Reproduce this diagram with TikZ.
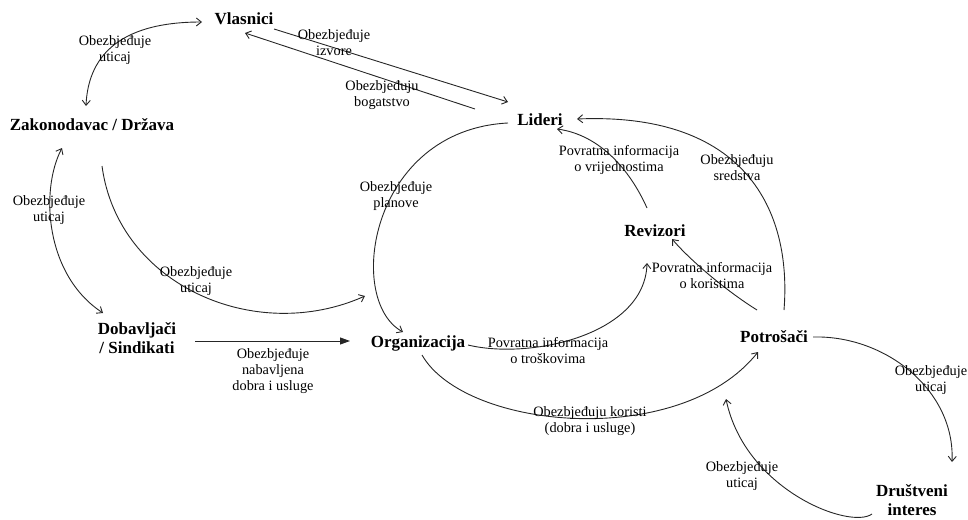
\documentclass[tikz,border=0pt]{standalone}
\usepackage{fontspec}
\setmainfont{Liberation Serif}
\usetikzlibrary{arrows.meta}
\begin{document}
\begin{tikzpicture}[x=1pt,y=-1pt,
  ent/.style={font=\fontsize{17}{19}\selectfont\bfseries, align=center, inner sep=0pt},
  lbl/.style={font=\fontsize{14.3}{16}\selectfont, align=center, inner sep=0pt},
  con/.style={line width=0.9pt, draw=black!85, -{Straight Barb[length=5pt,width=8pt]}},
  dcon/.style={line width=0.9pt, draw=black!85, {Straight Barb[length=5pt,width=8pt]}-{Straight Barb[length=5pt,width=8pt]}},
  fcon/.style={line width=0.9pt, draw=black!85, -{Triangle[length=10pt,width=7pt]}}]
\useasboundingbox (0,0) rectangle (968,519);

% entities
\node[ent] (vl) at (244,19) {Vlasnici};
\node[ent] (zk) at (92,125) {Zakonodavac / Država};
\node[ent] (li) at (540,120) {Lideri};
\node[ent] (rv) at (655,231) {Revizori};
\node[ent] (db) at (137,338) {Dobavljači\\/ Sindikati};
\node[ent] (org) at (418,343) {Organizacija};
\node[ent] (pot) at (774,337) {Potrošači};
\node[ent] (dr) at (912,500) {Društveni\\interes};

% connector end points
\coordinate (vlW) at (202,22);
\coordinate (zkN) at (86,106);
\coordinate (zkS) at (62,148);
\coordinate (dbN) at (103,313);
\coordinate (zkSE) at (102,166);
\coordinate (orgNW) at (365,296);
\coordinate (vlE) at (274,29);
\coordinate (liW) at (508,102);
\coordinate (liSW) at (475,109);
\coordinate (vlSE) at (245,33);
\coordinate (liL) at (508,123);
\coordinate (orgN) at (403,332);
\coordinate (dbE) at (195,341);
\coordinate (orgW) at (350,341);
\coordinate (orgE) at (468,345);
\coordinate (rvS) at (647,263);
\coordinate (rvN) at (647,208);
\coordinate (liS) at (557,129);
\coordinate (potNW) at (757,310);
\coordinate (rvSE) at (672,239);
\coordinate (potN) at (784,310);
\coordinate (liE) at (577,119);
\coordinate (orgS) at (422,355);
\coordinate (potSW) at (758,352);
\coordinate (potE) at (813,337);
\coordinate (drN) at (952,462);
\coordinate (drSW) at (872,514);
\coordinate (potS) at (726,399);

% connectors
\draw[dcon] (zkN) .. controls (88,60) and (115,22) .. (vlW);
\draw[dcon] (zkS) .. controls (40,190) and (45,275) .. (dbN);
\draw[con] (zkSE) .. controls (118,285) and (255,345) .. (orgNW);
\draw[con] (vlE) -- (liW);
\draw[con] (liSW) -- (vlSE);
\draw[con] (liL) .. controls (370,130) and (345,300) .. (orgN);
\draw[fcon] (dbE) -- (orgW);
\draw[con] (orgE) .. controls (530,360) and (645,335) .. (rvS);
\draw[con] (rvN) .. controls (630,170) and (600,135) .. (liS);
\draw[con] (potNW) .. controls (725,290) and (690,260) .. (rvSE);
\draw[con] (potN) .. controls (792,210) and (745,112) .. (liE);
\draw[con] (orgS) .. controls (465,430) and (680,450) .. (potSW);
\draw[con] (potE) .. controls (885,335) and (955,390) .. (drN);
\draw[con] (drSW) .. controls (850,530) and (745,490) .. (potS);

% labels
\node[lbl] (l1) at (115,50) {Obezbjeđuje\\uticaj};
\node[lbl] (l2) at (334,43) {Obezbjeđuje\\izvore};
\node[lbl] (l3) at (382,95) {Obezbjeđuju\\bogatstvo};
\node[lbl] (l4) at (396,196) {Obezbjeđuje\\planove};
\node[lbl] (l5) at (49,210) {Obezbjeđuje\\uticaj};
\node[lbl] (l6) at (196,281) {Obezbjeđuje\\uticaj};
\node[lbl] (l7) at (273,371) {Obezbjeđuje\\nabavljena\\dobra i usluge};
\node[lbl] (l8) at (548,351) {Povratna informacija\\o troškovima};
\node[lbl] (l9) at (619,160) {Povratna informacija\\o vrijednostima};
\node[lbl] (l10) at (712,276) {Povratna informacija\\o koristima};
\node[lbl] (l11) at (737,168) {Obezbjeđuju\\sredstva};
\node[lbl] (l12) at (590,421) {Obezbjeđuju koristi\\(dobra i usluge)};
\node[lbl] (l13) at (931,380) {Obezbjeđuje\\uticaj};
\node[lbl] (l14) at (742,476) {Obezbjeđuje\\uticaj};
\end{tikzpicture}
\end{document}
